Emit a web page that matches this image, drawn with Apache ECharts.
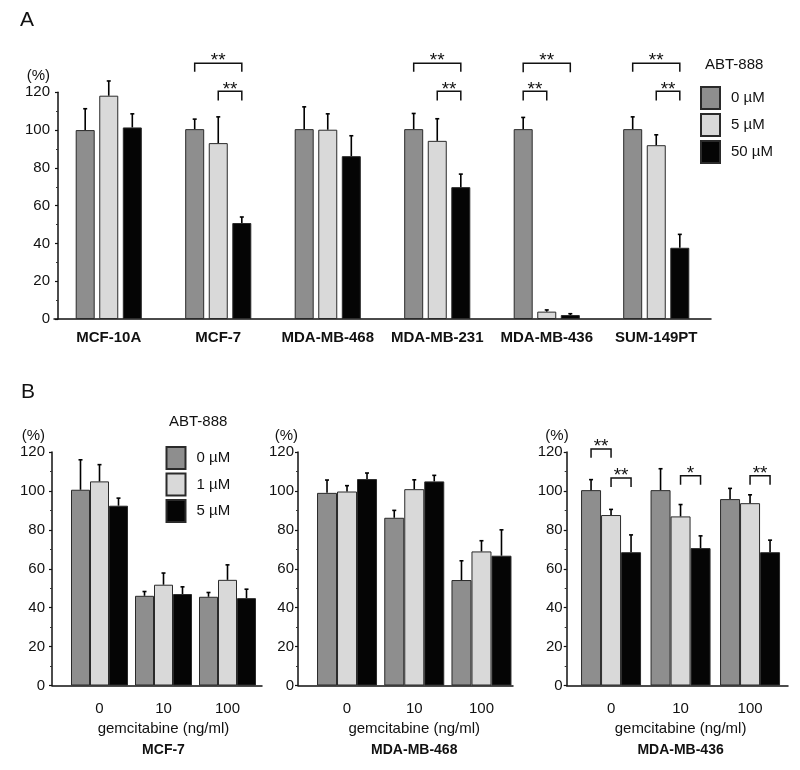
<!DOCTYPE html>
<html>
<head>
<meta charset="utf-8">
<script src="https://cdn.jsdelivr.net/npm/echarts@6/dist/echarts.min.js"></script>
<style>html,body{margin:0;padding:0;background:#fff}#c{width:800px;height:770px}</style>
</head>
<body>
<div id="c"></div>
<script>
// ---------- Panel A data ----------
const catsA = ['MCF-10A', 'MCF-7', 'MDA-MB-468', 'MDA-MB-231', 'MDA-MB-436', 'SUM-149PT'];
const a0 = [100, 100.5, 100.5, 100.5, 100.5, 100.5];
const a0Top = [111.3, 105.8, 112.3, 108.8, 106.7, 107];
const a5 = [118.2, 93.1, 100.2, 94.3, 3.9, 92];
const a5Top = [126, 107, 108.6, 106, 4.8, 97.5];
const a50 = [101.4, 50.8, 86.2, 69.8, 2.1, 37.7];
const a50Top = [108.6, 54, 97, 76.7, 2.8, 44.8];
// [category, fromBar, toBar, level, tickDepth]
const bracketsA = [[1,0,2,135.4,4.5],[1,1,2,120.5,4.8],[3,0,2,135.4,4.5],[3,1,2,120.5,4.8],
                   [4,0,2,135.4,4.8],[4,0,1,120.5,4.8],[5,0,2,135.4,4.5],[5,1,2,120.5,4.8]];
const bracketsALabels = ['**','**','**','**','**','**','**','**'];
const legendA = ['0 µM', '5 µM', '50 µM'];
// ---------- Panel B data ----------
const catsB = ['0', '10', '100'];
const legendB = ['0 µM', '1 µM', '5 µM'];
const panelTitles = ['MCF-7', 'MDA-MB-468', 'MDA-MB-436'];
const b1_0 = [100.6, 46.1, 45.6], b1_0Top = [116, 48.3, 47.8];
const b1_1 = [104.9, 51.8, 54.3], b1_1Top = [113.5, 57.8, 62];
const b1_5 = [92.4, 47, 44.9],   b1_5Top = [96.3, 50.7, 49.5];
const b2_0 = [99, 86.2, 54.2],   b2_0Top = [105.6, 90, 64.1];
const b2_1 = [99.7, 100.9, 68.9], b2_1Top = [102.7, 105.7, 74.4];
const b2_5 = [106.1, 104.9, 66.7], b2_5Top = [109.2, 108, 80];
const b3_0 = [100.4, 100.4, 95.8], b3_0Top = [105.8, 111.4, 101.3];
const b3_1 = [87.6, 86.9, 93.7],  b3_1Top = [90.5, 93, 98];
const b3_5 = [68.5, 70.6, 68.5],  b3_5Top = [77.4, 76.9, 74.7];
const bracketsB3 = [[0,0,1,121.5,4.4],[0,1,2,106.6,4.6],[1,1,2,107.8,4.6],[2,1,2,107.8,4.6]];
const bracketsB3Labels = ['**','**','*','**'];
const yTicks = [0, 20, 40, 60, 80, 100, 120];

// ---------- styles ----------
const FONT = "'Liberation Sans', Arial, sans-serif";
const COLORS = ['#8e8e8e', '#d9d9d9', '#050505'];
const BORDER = '#2a2a2a';

const chart = echarts.init(document.getElementById('c'), null, {renderer: 'canvas'});

function yAxisCfg(gi, show, margin, namePad, offset) {
  return {
    type: 'value', gridIndex: gi, min: yTicks[0], max: yTicks[yTicks.length - 1], interval: 20,
    show: show, offset: offset || 0,
    name: '(%)', nameLocation: 'end', nameGap: 9,
    nameTextStyle: {fontFamily: FONT, fontSize: 15, color: '#111', align: 'right', padding: [0, namePad, 0, 0]},
    axisLine: {show: true, lineStyle: {color: '#111', width: 1.5}},
    axisTick: {show: true, length: 3, lineStyle: {color: '#111', width: 1.2}},
    minorTick: {show: true, splitNumber: 2, length: 2, lineStyle: {color: '#333', width: 1}},
    splitLine: {show: false},
    axisLabel: {fontFamily: FONT, fontSize: 15, color: '#111', margin: margin}
  };
}

function barSeries(name, xi, yi, data, ci, bw, gap) {
  return {
    type: 'bar', name: name, xAxisIndex: xi, yAxisIndex: yi, data: data,
    barWidth: bw, barGap: gap, silent: true,
    itemStyle: {color: COLORS[ci], borderColor: BORDER, borderWidth: 1}
  };
}

function errSeries(xi, yi, vals, tops, off) {
  return {
    type: 'custom', xAxisIndex: xi, yAxisIndex: yi, clip: false, silent: true, z: 5,
    data: vals.map((v, i) => [i, v, tops[i]]),
    renderItem(params, api) {
      const p0 = api.coord([api.value(0), api.value(1)]);
      const p1 = api.coord([api.value(0), api.value(2)]);
      const x = p0[0] + off;
      return {type: 'group', children: [
        {type: 'line', shape: {x1: x, y1: p0[1], x2: x, y2: p1[1]}, style: {stroke: '#000', lineWidth: 1.6}},
        {type: 'line', shape: {x1: x - 2, y1: p1[1], x2: x + 2, y2: p1[1]}, style: {stroke: '#000', lineWidth: 1.6}}
      ]};
    }
  };
}

function bracketSeries(xi, yi, items, labels, offs) {
  return {
    type: 'custom', xAxisIndex: xi, yAxisIndex: yi, clip: false, silent: true, z: 6,
    data: items,
    renderItem(params, api) {
      const cat = api.value(0), from = api.value(1), to = api.value(2), lvl = api.value(3), dep = api.value(4);
      const c = api.coord([cat, lvl]);
      const cb = api.coord([cat, lvl - dep]);
      const x1 = c[0] + offs[from], x2 = c[0] + offs[to];
      return {type: 'group', children: [
        {type: 'polyline', shape: {points: [[x1, cb[1]], [x1, c[1]], [x2, c[1]], [x2, cb[1]]]},
         style: {stroke: '#111', lineWidth: 1.5, fill: null}},
        {type: 'text', style: {text: labels[params.dataIndex], x: (x1 + x2) / 2, y: c[1] + 7.5,
         align: 'center', verticalAlign: 'bottom', fontSize: 19, fontFamily: FONT, fill: '#111'}}
      ]};
    }
  };
}

// geometry of panels
const A = {left: 54, top: 92.3, width: 657, height: 226.7};
const BT = 452, BH = 233.5;
const Bmain = [{left: 67.5, width: 192}, {left: 313.4, width: 201.7}, {left: 576.3, width: 208.5}];
const Bghost = [{left: 52, width: 210}, {left: 298, width: 215}, {left: 566.7, width: 221.3}];
const Bmargin = [7, 4, 4];
const BnamePad = [7, 0, -2];

const grids = [{left: A.left, top: A.top, width: A.width, height: A.height}];
const xAxes = [{
  type: 'category', gridIndex: 0, data: catsA,
  axisLine: {show: true, lineStyle: {color: '#111', width: 1.5}}, axisTick: {show: false},
  axisLabel: {fontFamily: FONT, fontSize: 15, fontWeight: 'bold', color: '#111', margin: 11, interval: 0}
}];
const yAxes = [yAxisCfg(0, true, 8, 8, -4)];

for (let k = 0; k < 3; k++) {
  // main grid (bars)
  grids.push({left: Bmain[k].left, top: BT, width: Bmain[k].width, height: BH});
  xAxes.push({
    type: 'category', gridIndex: grids.length - 1, data: catsB,
    axisLine: {show: false}, axisTick: {show: false},
    axisLabel: {fontFamily: FONT, fontSize: 15, color: '#111', margin: 16},
    name: 'gemcitabine (ng/ml)\n{t|' + panelTitles[k] + '}', nameLocation: 'middle', nameGap: 33,
    nameTextStyle: {fontFamily: FONT, fontSize: 15, color: '#111', lineHeight: 21, verticalAlign: 'top',
      rich: {t: {fontFamily: FONT, fontSize: 14, fontWeight: 'bold', color: '#111', lineHeight: 22}}}
  });
  yAxes.push(Object.assign(yAxisCfg(grids.length - 1, false, 4, 0), {show: false}));
  // ghost grid carrying the visible axis lines
  grids.push({left: Bghost[k].left, top: BT, width: Bghost[k].width, height: BH});
  xAxes.push({
    type: 'value', gridIndex: grids.length - 1, min: 0, max: 1, show: true,
    axisLine: {show: true, lineStyle: {color: '#111', width: 1.5}}, axisTick: {show: false},
    axisLabel: {show: false}, splitLine: {show: false}
  });
  yAxes.push(yAxisCfg(grids.length - 1, true, Bmargin[k], BnamePad[k]));
}

const bwA = 19, gapA = 0.24, stepA = bwA * (1 + gapA);
const offA = [-stepA, 0, stepA];
const series = [
  barSeries(legendA[0], 0, 0, a0, 0, bwA, (gapA * 100) + '%'),
  barSeries(legendA[1], 0, 0, a5, 1, bwA, (gapA * 100) + '%'),
  barSeries(legendA[2], 0, 0, a50, 2, bwA, (gapA * 100) + '%'),
  errSeries(0, 0, a0, a0Top, offA[0]),
  errSeries(0, 0, a5, a5Top, offA[1]),
  errSeries(0, 0, a50, a50Top, offA[2]),
  bracketSeries(0, 0, bracketsA, bracketsALabels, offA)
];

const Bdata = [
  [[b1_0, b1_0Top], [b1_1, b1_1Top], [b1_5, b1_5Top]],
  [[b2_0, b2_0Top], [b2_1, b2_1Top], [b2_5, b2_5Top]],
  [[b3_0, b3_0Top], [b3_1, b3_1Top], [b3_5, b3_5Top]]
];
const bwB = [19, 20, 20];
for (let k = 0; k < 3; k++) {
  const ai = 1 + 2 * k;
  const bw = bwB[k];
  const offs = [-bw, 0, bw];
  for (let s = 0; s < 3; s++) {
    series.push(barSeries('B' + legendB[s], ai, ai, Bdata[k][s][0], s, bw, '0%'));
  }
  for (let s = 0; s < 3; s++) {
    series.push(errSeries(ai, ai, Bdata[k][s][0], Bdata[k][s][1], offs[s]));
  }
  if (k === 2) series.push(bracketSeries(ai, ai, bracketsB3, bracketsB3Labels, offs));
}

chart.setOption({
  animation: false,
  backgroundColor: '#fff',
  title: [
    {text: 'A', left: 15, top: 5, textStyle: {fontFamily: FONT, fontSize: 21, fontWeight: 'normal', color: '#111'}},
    {text: 'ABT-888', left: 700, top: 52, textStyle: {fontFamily: FONT, fontSize: 15, fontWeight: 'normal', color: '#111'}},
    {text: 'B', left: 16, top: 377, textStyle: {fontFamily: FONT, fontSize: 21, fontWeight: 'normal', color: '#111'}},
    {text: 'ABT-888', left: 164, top: 409, textStyle: {fontFamily: FONT, fontSize: 15, fontWeight: 'normal', color: '#111'}}
  ],
  legend: [
    {data: legendA, orient: 'vertical', left: 700, top: 86, itemWidth: 19, itemHeight: 22, itemGap: 3,
     icon: 'rect', selectedMode: false, padding: 0,
     textStyle: {fontFamily: FONT, fontSize: 15, color: '#111', padding: [0, 0, 0, 6]}},
    {data: legendB.map(n => 'B' + n), orient: 'vertical', left: 165.5, top: 446, itemWidth: 19, itemHeight: 22, itemGap: 2.5,
     icon: 'rect', selectedMode: false, padding: 0, formatter: n => n.slice(1),
     textStyle: {fontFamily: FONT, fontSize: 15, color: '#111', padding: [0, 0, 0, 6]}}
  ],
  grid: grids,
  xAxis: xAxes,
  yAxis: yAxes,
  series: series
});
</script>
</body>
</html>
